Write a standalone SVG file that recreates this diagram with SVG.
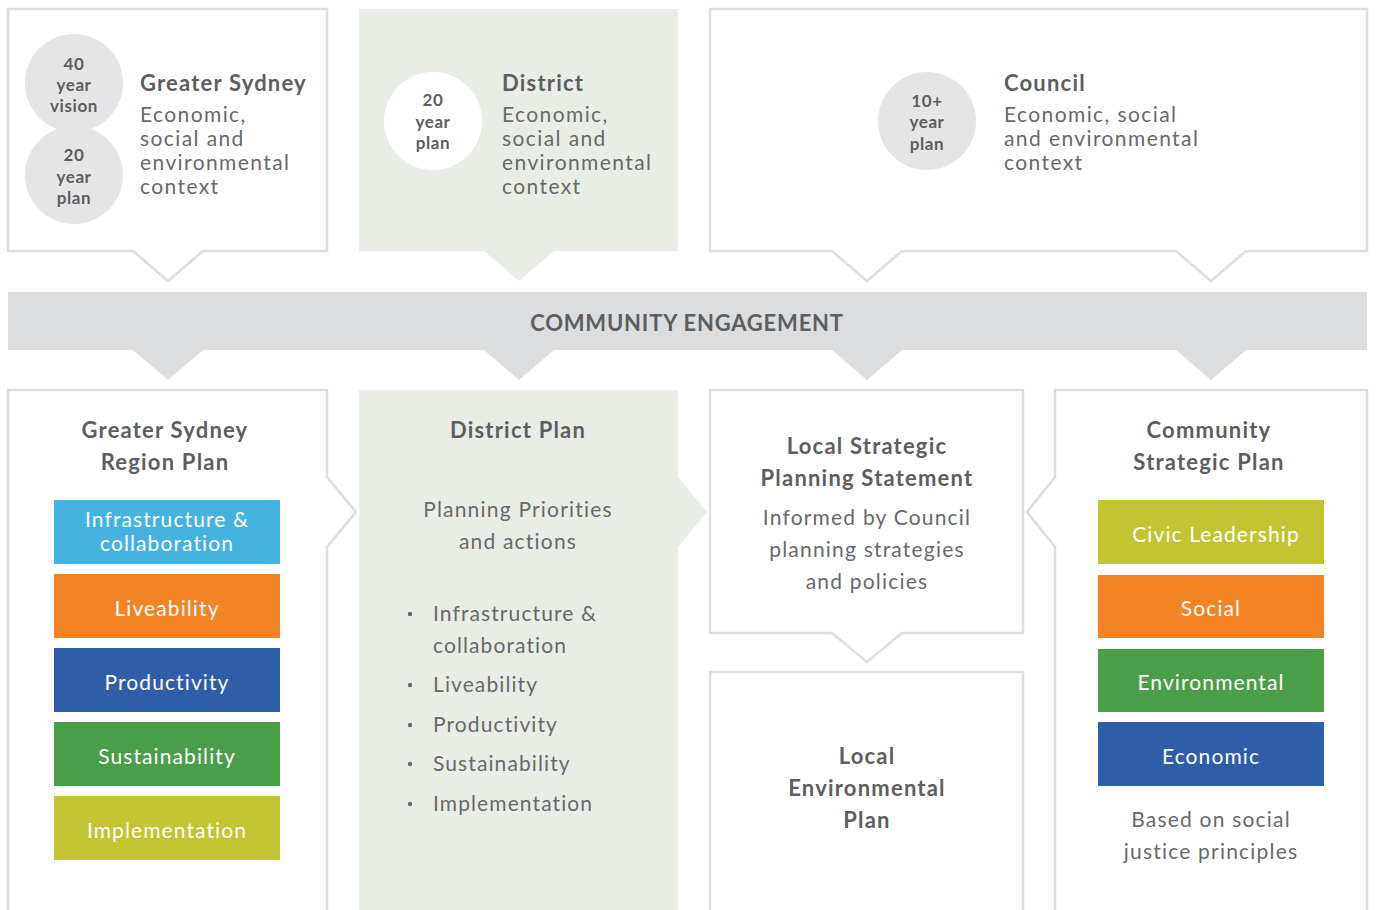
<svg xmlns="http://www.w3.org/2000/svg" width="1376" height="910" viewBox="0 0 1376 910">
<style>
.box{fill:#ffffff;stroke:#dcdddd;stroke-width:2.5;stroke-linejoin:miter}
.green{fill:#e8eee5}
.band{fill:#dcdddf}
.circ{fill:#e5e5e6}
.cw{fill:#ffffff}
.ct{font-family:Lato,"Liberation Sans",sans-serif;font-weight:700;font-size:17px;letter-spacing:0.6px;fill:#5d5e60;text-anchor:middle}
.h{font-family:Lato,"Liberation Sans",sans-serif;font-weight:700;font-size:22px;letter-spacing:1.2px;fill:#5d5e60}
.hc{font-family:Lato,"Liberation Sans",sans-serif;font-weight:700;font-size:22px;letter-spacing:1.2px;fill:#5d5e60;text-anchor:middle}
.bn{font-family:Lato,"Liberation Sans",sans-serif;font-weight:700;font-size:22px;letter-spacing:0.8px;fill:#5d5e60;text-anchor:middle}
.t{font-family:Lato,"Liberation Sans",sans-serif;font-weight:400;font-size:21px;letter-spacing:1.4px;fill:#68696b}
.tc{font-family:Lato,"Liberation Sans",sans-serif;font-weight:400;font-size:21px;letter-spacing:1.2px;fill:#68696b;text-anchor:middle}
.tl{font-family:Lato,"Liberation Sans",sans-serif;font-weight:400;font-size:21px;letter-spacing:1.1px;fill:#68696b}
.w{font-family:Lato,"Liberation Sans",sans-serif;font-weight:400;font-size:21px;letter-spacing:1.1px;fill:#ffffff;text-anchor:middle}
.dot{fill:#68696b}
.c1{fill:#45b3e0}.c2{fill:#f28424}.c3{fill:#2f5ea8}.c4{fill:#4a9e47}.c5{fill:#c2c531}
</style>

<g id="connectors">
  <path class="band" d="M8,292 H1367 V350 H1246 L1211,380 L1176,350 H902 L867,380 L832,350 H554 L519,380 L484,350 H203 L168,380 L133,350 H8 Z"/>
  <text class="bn" x="687" y="331">COMMUNITY ENGAGEMENT</text>
</g>

<g id="greater-sydney-context">
  <path class="box" d="M8,9 H327 V251 H203 L168,281 L133,251 H8 Z"/>
  <circle class="circ" cx="74" cy="83" r="49"/>
  <circle class="circ" cx="74" cy="175" r="49"/>
  <text class="ct" x="74" y="70">40</text>
  <text class="ct" x="74" y="91">year</text>
  <text class="ct" x="74" y="112">vision</text>
  <text class="ct" x="74" y="161">20</text>
  <text class="ct" x="74" y="183">year</text>
  <text class="ct" x="74" y="204">plan</text>
  <text class="h" x="140" y="91">Greater Sydney</text>
  <text class="t" x="140" y="122">Economic,</text>
  <text class="t" x="140" y="146">social and</text>
  <text class="t" x="140" y="170">environmental</text>
  <text class="t" x="140" y="194">context</text>
</g>

<g id="district-context">
  <path class="green" d="M359,9 H678 V251 H554 L519,281 L484,251 H359 Z"/>
  <circle class="cw" cx="433" cy="121" r="49"/>
  <text class="ct" x="433" y="106">20</text>
  <text class="ct" x="433" y="128">year</text>
  <text class="ct" x="433" y="149">plan</text>
  <text class="h" x="502" y="91">District</text>
  <text class="t" x="502" y="122">Economic,</text>
  <text class="t" x="502" y="146">social and</text>
  <text class="t" x="502" y="170">environmental</text>
  <text class="t" x="502" y="194">context</text>
</g>

<g id="council-context">
  <path class="box" d="M710,9 H1367 V251 H1246 L1211,281 L1176,251 H902 L867,281 L832,251 H710 Z"/>
  <circle class="circ" cx="927" cy="121" r="49"/>
  <text class="ct" x="927" y="107">10+</text>
  <text class="ct" x="927" y="128">year</text>
  <text class="ct" x="927" y="150">plan</text>
  <text class="h" x="1004" y="91">Council</text>
  <text class="t" x="1004" y="122">Economic, social</text>
  <text class="t" x="1004" y="146">and environmental</text>
  <text class="t" x="1004" y="170">context</text>
</g>

<g id="region-plan">
  <path class="box" d="M8,912 V390 H327 V477 L356,512 L327,547 V912"/>
  <text class="hc" x="165" y="438">Greater Sydney</text>
  <text class="hc" x="165" y="470">Region Plan</text>
  <rect class="c1" x="54" y="500" width="226" height="64"/>
  <text class="w" x="167" y="527">Infrastructure &amp;</text>
  <text class="w" x="167" y="551">collaboration</text>
  <rect class="c2" x="54" y="574" width="226" height="64"/>
  <text class="w" x="167" y="616">Liveability</text>
  <rect class="c3" x="54" y="648" width="226" height="64"/>
  <text class="w" x="167" y="690">Productivity</text>
  <rect class="c4" x="54" y="722" width="226" height="64"/>
  <text class="w" x="167" y="764">Sustainability</text>
  <rect class="c5" x="54" y="796" width="226" height="64"/>
  <text class="w" x="167" y="838">Implementation</text>
</g>

<g id="district-plan">
  <path class="green" d="M359,390 H678 V477 L707,512 L678,547 V912 H359 Z"/>
  <text class="hc" x="518" y="438">District Plan</text>
  <text class="tc" x="518" y="517">Planning Priorities</text>
  <text class="tc" x="518" y="549">and actions</text>
  <circle class="dot" cx="410" cy="614" r="2.2"/>
  <text class="tl" x="433" y="621">Infrastructure &amp;</text>
  <text class="tl" x="433" y="653">collaboration</text>
  <circle class="dot" cx="410" cy="685" r="2.2"/>
  <text class="tl" x="433" y="692">Liveability</text>
  <circle class="dot" cx="410" cy="725" r="2.2"/>
  <text class="tl" x="433" y="732">Productivity</text>
  <circle class="dot" cx="410" cy="764" r="2.2"/>
  <text class="tl" x="433" y="771">Sustainability</text>
  <circle class="dot" cx="410" cy="804" r="2.2"/>
  <text class="tl" x="433" y="811">Implementation</text>
</g>

<g id="local-strategic-planning-statement">
  <path class="box" d="M710,390 H1023 V633 H902 L867,662 L832,633 H710 Z"/>
  <text class="hc" x="867" y="454">Local Strategic</text>
  <text class="hc" x="867" y="486">Planning Statement</text>
  <text class="tc" x="867" y="525">Informed by Council</text>
  <text class="tc" x="867" y="557">planning strategies</text>
  <text class="tc" x="867" y="589">and policies</text>
</g>

<g id="local-environmental-plan">
  <path class="box" d="M710,912 V672 H1023 V912"/>
  <text class="hc" x="867" y="764">Local</text>
  <text class="hc" x="867" y="796">Environmental</text>
  <text class="hc" x="867" y="828">Plan</text>
</g>

<g id="community-strategic-plan">
  <path class="box" d="M1367,912 V390 H1055 V477 L1027,512 L1055,547 V912"/>
  <text class="hc" x="1209" y="438">Community</text>
  <text class="hc" x="1209" y="470">Strategic Plan</text>
  <rect class="c5" x="1098" y="500" width="226" height="64"/>
  <text class="w" x="1216" y="542">Civic Leadership</text>
  <rect class="c2" x="1098" y="575" width="226" height="63"/>
  <text class="w" x="1211" y="616">Social</text>
  <rect class="c4" x="1098" y="649" width="226" height="63"/>
  <text class="w" x="1211" y="690">Environmental</text>
  <rect class="c3" x="1098" y="722" width="226" height="64"/>
  <text class="w" x="1211" y="764">Economic</text>
  <text class="tc" x="1211" y="827">Based on social</text>
  <text class="tc" x="1211" y="859">justice principles</text>
</g>
</svg>
